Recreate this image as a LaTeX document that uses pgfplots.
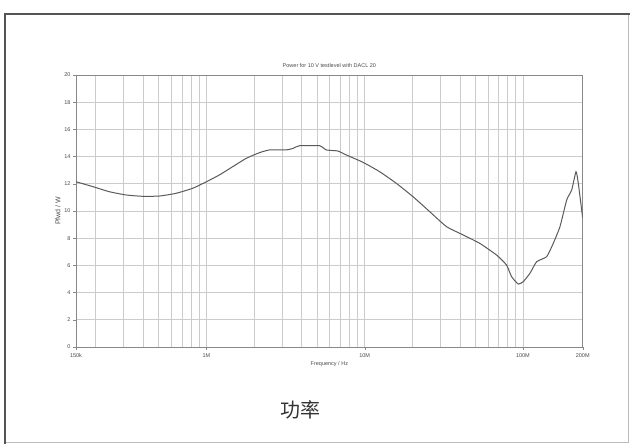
\documentclass[border=0pt]{standalone}
\usepackage{pgfplots}
\pgfplotsset{compat=1.18}
\usepackage{fontspec}
\setmainfont{Liberation Sans}
\newfontfamily\cjk{Noto Sans CJK SC}
\definecolor{gridc}{HTML}{CCCCCC}
\definecolor{curvec}{HTML}{5A5A5A}
\definecolor{axc}{HTML}{888888}
\definecolor{framec}{HTML}{555555}
\begin{document}
\begin{tikzpicture}[x=1pt,y=1pt]
\useasboundingbox (0,0) rectangle (630,444);
\fill[white] (0,0) rectangle (630,444);
\draw[framec!40, line width=0.6pt] (5,2) -- (628,2) -- (628,430);
\draw[framec, line width=1.8pt] (5,0) -- (5,430) -- (630,430);
\begin{axis}[
  at={(76pt,97pt)}, anchor=south west,
  scale only axis, width=506.7pt, height=272pt,
  xmode=log, log basis x=10,
  xmin=1.5e5, xmax=2.387e8,
  ymin=0, ymax=20,
  ytick={0,2,...,20},
  xtick={1.5e5,1e6,1e7,1e8,2.387e8},
  xticklabels={150k,1M,10M,100M,200M},
  minor xtick={2e5,3e5,4e5,5e5,6e5,7e5,8e5,9e5,2e6,3e6,4e6,5e6,6e6,7e6,8e6,9e6,2e7,3e7,4e7,5e7,6e7,7e7,8e7,9e7},
  grid=both,
  major grid style={gridc, line width=0.6pt},
  minor grid style={gridc, line width=0.6pt},
  axis line style={axc, line width=0.8pt},
  tick style={axc},
  major tick length=3pt, minor tick length=0pt,
  tick align=outside,
  xtick pos=bottom, ytick pos=left,
  /pgf/number format/assume math mode=true,
  ticklabel style={font=\fontsize{5.5}{6.5}\selectfont, text=black!70},
  yticklabel style={xshift=1pt},
  title={Power for 10 V testlevel with DACL 20},
  title style={font=\fontsize{5.5}{6.5}\selectfont, text=black!70, yshift=-2pt},
  xlabel={Frequency / Hz},
  xlabel style={font=\fontsize{5.5}{6.5}\selectfont, text=black!70, yshift=3pt},
  ylabel={Pfwd / W},
  ylabel style={font=\fontsize{7}{8}\selectfont, text=black!70, yshift=-3pt},
]
\addplot[curvec, line width=1pt, smooth, tension=0.3] coordinates {
(1.5e5,12.15) (1.907e5,11.8) (2.432e5,11.42) (3.10e5,11.18) (3.95e5,11.08)
(5.04e5,11.1) (6.43e5,11.3) (8.19e5,11.67) (1.0e6,12.15) (1.208e6,12.65)
(1.467e6,13.26) (1.784e6,13.87) (2.165e6,14.29) (2.505e6,14.49) (3.194e6,14.49)
(3.517e6,14.6) (3.879e6,14.8) (5.19e6,14.8) (5.72e6,14.49) (6.78e6,14.41)
(7.66e6,14.12) (9.76e6,13.58) (1.244e7,12.89) (1.587e7,12.03) (2.022e7,11.05)
(2.578e7,9.95) (3.29e7,8.85) (4.19e7,8.24) (5.34e7,7.62) (6.82e7,6.76)
(7.88e7,6.03) (8.48e7,5.17) (9.34e7,4.63) (1.004e8,4.8) (1.108e8,5.42)
(1.221e8,6.27) (1.413e8,6.64) (1.555e8,7.62) (1.715e8,8.85) (1.891e8,10.81)
(2.033e8,11.54) (2.165e8,12.89) (2.239e8,12.03) (2.387e8,9.46)
};
\end{axis}
\node[font=\cjk\fontsize{20}{24}\selectfont, text=black!80] at (300,34) {功率};
\end{tikzpicture}
\end{document}
